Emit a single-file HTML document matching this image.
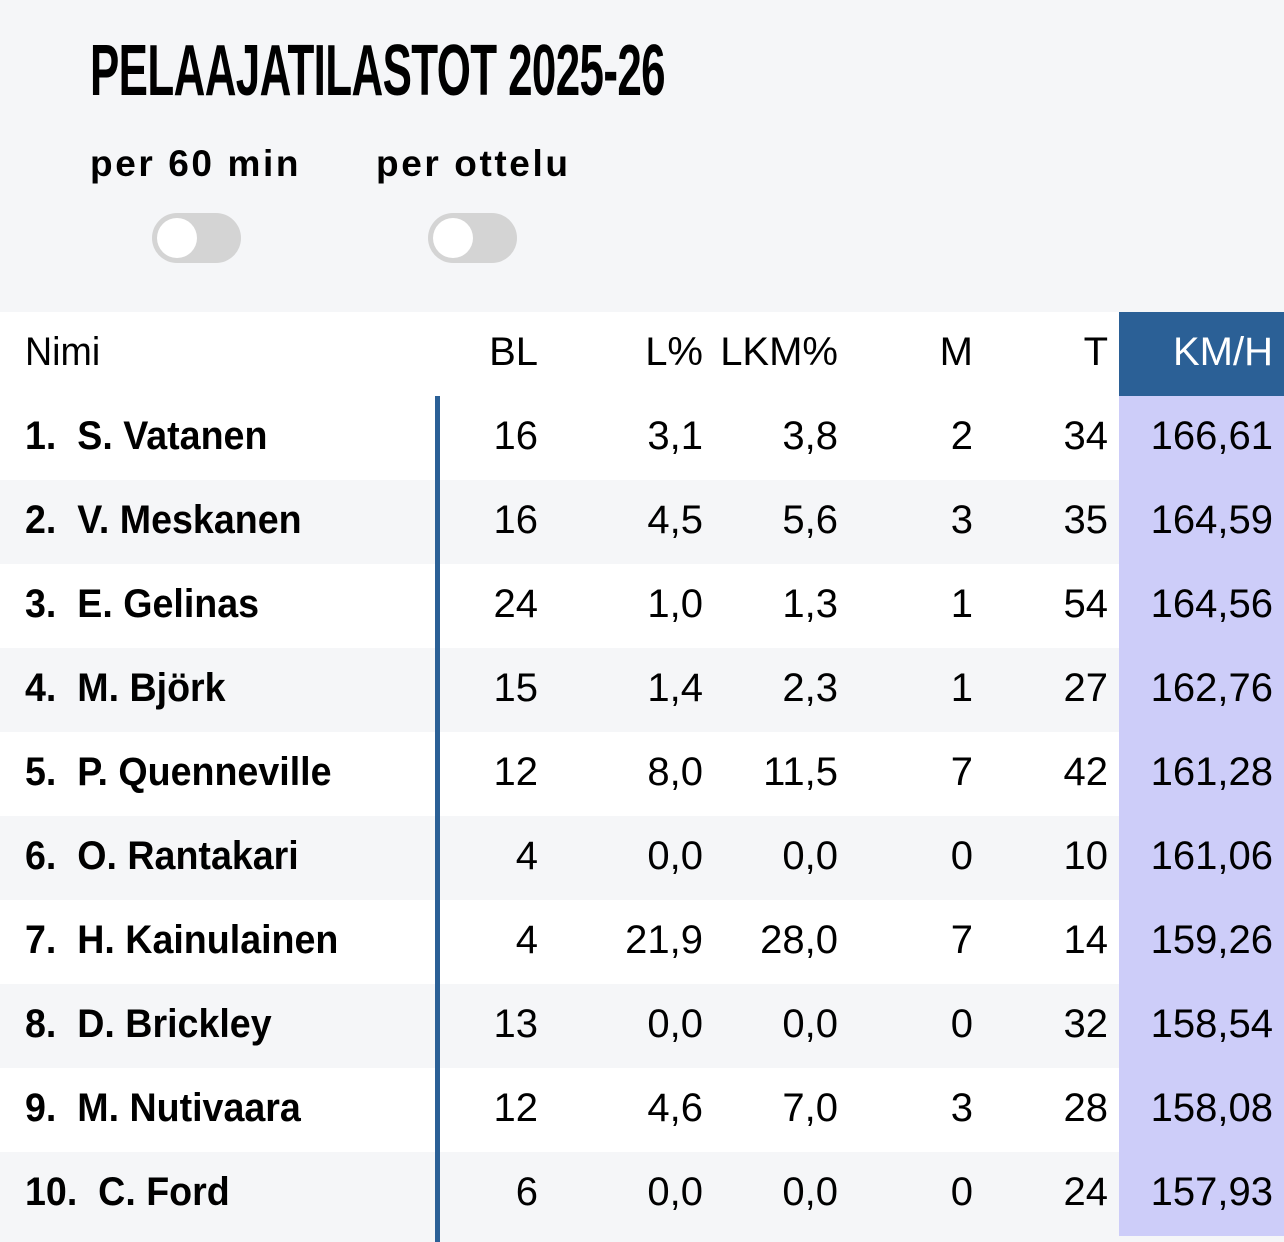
<!DOCTYPE html>
<html><head><meta charset="utf-8"><style>
body{margin:0;width:1284px;height:1242px;overflow:hidden;background:#f5f6f8;font-family:"Liberation Sans",sans-serif;position:relative}
.title{position:absolute;left:90px;top:30px;font-size:72px;font-weight:bold;white-space:nowrap;transform-origin:0 0;transform:scaleX(0.61);letter-spacing:-1px}
.lab{position:absolute;top:143px;font-weight:bold;font-size:37px;letter-spacing:2.6px}
.tg{position:absolute;top:213px;width:89px;height:50px;border-radius:25px;background:#d4d4d4}
.tg:after{content:"";position:absolute;left:5px;top:5px;width:40px;height:40px;border-radius:50%;background:#fff}
.row{position:absolute;left:0;width:1284px;height:84px;font-size:40px}
.row span{position:absolute;top:18px;white-space:nowrap}
.row span.nm{transform-origin:0 0;transform:scaleX(0.94)}
.km{position:absolute;left:1119px;width:165px;height:84px;top:0}
</style></head><body>
<div class="title">PELAAJATILASTOT 2025-26</div>
<div class="lab" style="left:90px">per 60 min</div>
<div class="lab" style="left:376px">per ottelu</div>
<div class="tg" style="left:152px"></div>
<div class="tg" style="left:428px"></div>
<div id="t"></div>
<div style="position:absolute;left:435px;top:396px;width:5px;height:846px;background:#2b6096"></div>
<script>
var d=[["Nimi","BL","L%","LKM%","M","T","KM/H"],
["1.  S. Vatanen",16,"3,1","3,8",2,34,"166,61"],
["2.  V. Meskanen",16,"4,5","5,6",3,35,"164,59"],
["3.  E. Gelinas",24,"1,0","1,3",1,54,"164,56"],
["4.  M. Björk",15,"1,4","2,3",1,27,"162,76"],
["5.  P. Quenneville",12,"8,0","11,5",7,42,"161,28"],
["6.  O. Rantakari",4,"0,0","0,0",0,10,"161,06"],
["7.  H. Kainulainen",4,"21,9","28,0",7,14,"159,26"],
["8.  D. Brickley",13,"0,0","0,0",0,32,"158,54"],
["9.  M. Nutivaara",12,"4,6","7,0",3,28,"158,08"],
["10.  C. Ford",6,"0,0","0,0",0,24,"157,93"]];
var R=[538,703,838,973,1108,1273],h="";
d.forEach(function(r,i){var top=312+i*84;var bg=(i>0&&i%2==0)?"#f5f6f8":"#fff";
h+='<div class="row" style="top:'+top+'px;background:'+bg+'"><div class="km" style="background:'+(i==0?"#2b6096":"#cdcdf9")+'"></div>';
h+='<span class="nm" style="left:25px;'+(i>0?'font-weight:bold;':'')+'">'+r[0].replace(/ /g,"&nbsp;")+'</span>';
for(var j=1;j<7;j++){h+='<span style="right:'+(1284-R[j-1])+'px;'+(i==0&&j==6?'color:#fff;':'')+'">'+r[j]+'</span>';}
h+='</div>';});
document.getElementById("t").innerHTML=h;
</script>
</body></html>
